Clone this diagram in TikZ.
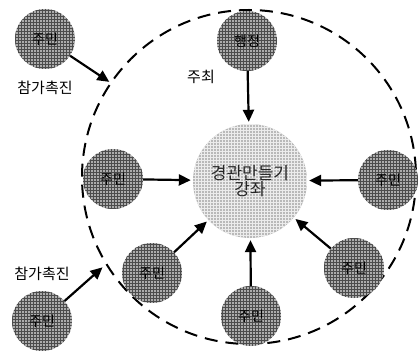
\documentclass[tikz,border=0pt]{standalone}
\usepackage{fontspec}
\newfontfamily\kr{Noto Sans CJK KR}
\usetikzlibrary{arrows.meta,patterns}
\tikzset{
  person/.style={circle, minimum size=60pt, inner sep=0pt, fill=gray!65,
    postaction={pattern=grid, pattern color=black!70}, font=\kr\fontsize{14}{15}\selectfont, text=black},
  hub/.style={circle, minimum size=114pt, inner sep=0pt, fill=gray!55,
    postaction={pattern=grid, pattern color=white!85!gray}, font=\kr\fontsize{17}{19}\selectfont, align=center, text=black!85},
  lbl/.style={font=\kr\fontsize{15}{16}\selectfont, inner sep=0pt},
  arr/.style={line width=2.2pt, -{Triangle[length=12pt,width=11pt]}, shorten >=2pt},
  boundary/.style={line width=2pt, dash pattern=on 13pt off 8pt}
}
\begin{document}
\begin{tikzpicture}[x=1pt,y=-1pt]
\useasboundingbox (0,0) rectangle (419,352);
\fill[white] (0,0) rectangle (419,352);
\draw[boundary] (249,177) circle[radius=167];
\node[hub] (c) at (250,181) {경관만들기\\[-3pt]강좌};
\node[person] (tl) at (45,39) {주민};
\node[person] (top) at (247,41) {행정};
\node[person] (l) at (113,179) {주민};
\node[person] (r) at (388,180) {주민};
\node[person] (bl) at (42,321) {주민};
\node[person] (bli) at (152,273) {주민};
\node[person] (b) at (251,316) {주민};
\node[person] (br) at (354,268) {주민};
\coordinate (e1) at (111,83);
\coordinate (e2) at (104,266);
\node[lbl] (p1) at (45,88) {참가촉진};
\node[lbl] (p2) at (42,274) {참가촉진};
\node[lbl] (h) at (201,77) {주최};
\draw[arr] (tl) -- (e1);
\draw[arr] (bl) -- (e2);
\draw[arr] (top) -- (c);
\draw[arr] (l) -- (c);
\draw[arr] (r) -- (c);
\draw[arr] (bli) -- (c);
\draw[arr] (b) -- (c);
\draw[arr] (br) -- (c);
\end{tikzpicture}
\end{document}
